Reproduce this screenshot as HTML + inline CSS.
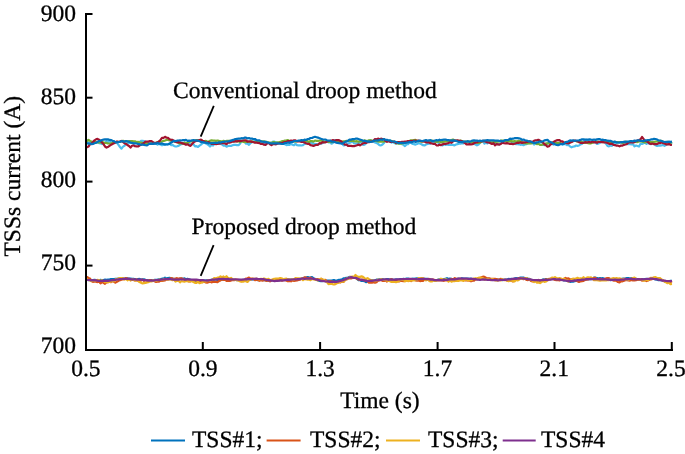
<!DOCTYPE html>
<html><head><meta charset="utf-8"><style>
html,body{margin:0;padding:0;background:#fff;}
svg{display:block;will-change:transform;}
text{font-family:"Liberation Serif",serif;fill:#000;text-rendering:geometricPrecision;stroke:#000;stroke-width:0.3px;}
</style></head><body>
<svg width="685" height="454" viewBox="0 0 685 454">
<rect width="685" height="454" fill="#fff"/>
<g id="curves">
<polyline fill="none" stroke="#4DBEEE" stroke-width="2.2" stroke-linejoin="round" points="85.5,139.2 87.0,140.6 88.5,143.2 90.0,143.7 91.5,142.8 93.0,143.1 94.5,142.5 96.0,142.8 97.5,142.1 99.0,143.1 100.5,143.3 102.0,144.1 103.5,143.3 105.0,142.8 106.5,140.8 108.0,142.3 109.5,140.5 111.0,143.1 112.5,142.9 114.0,142.7 115.5,142.4 117.0,142.9 118.5,144.9 120.0,147.0 121.5,148.7 123.0,146.6 124.5,145.7 126.0,143.9 127.5,143.9 129.0,142.0 130.5,142.6 132.0,142.7 133.5,141.9 135.0,142.9 136.5,142.3 138.0,142.4 139.5,142.1 141.0,140.9 142.5,140.8 144.0,141.0 145.5,141.7 147.0,142.2 148.5,141.9 150.0,142.4 151.5,142.9 153.0,143.4 154.5,143.6 156.0,143.4 157.5,144.6 159.0,143.7 160.5,144.6 162.0,145.3 163.5,144.5 165.0,144.2 166.5,144.0 168.0,144.3 169.5,143.4 171.0,145.1 172.5,144.8 174.0,145.9 175.5,146.5 177.0,146.3 178.5,145.9 180.0,144.8 181.5,144.1 183.0,143.6 184.5,142.6 186.0,143.6 187.5,142.8 189.0,142.8 190.5,144.8 192.0,144.2 193.5,144.2 195.0,146.4 196.5,146.2 198.0,147.0 199.5,145.6 201.0,144.6 202.5,143.2 204.0,142.7 205.5,143.2 207.0,144.0 208.5,145.0 210.0,146.5 211.5,145.0 213.0,145.6 214.5,143.8 216.0,143.5 217.5,142.8 219.0,143.2 220.5,144.0 222.0,144.4 223.5,145.6 225.0,145.7 226.5,146.7 228.0,146.0 229.5,145.8 231.0,146.0 232.5,145.3 234.0,144.9 235.5,144.9 237.0,145.1 238.5,145.2 240.0,143.7 241.5,141.4 243.0,141.0 244.5,141.0 246.0,143.6 247.5,143.6 249.0,144.9 250.5,143.1 252.0,142.2 253.5,141.7 255.0,140.9 256.5,140.8 258.0,142.0 259.5,142.5 261.0,142.8 262.5,143.9 264.0,143.0 265.5,144.6 267.0,143.3 268.5,142.8 270.0,143.3 271.5,142.8 273.0,141.5 274.5,141.7 276.0,142.2 277.5,143.2 279.0,142.7 280.5,143.1 282.0,143.6 283.5,143.4 285.0,144.3 286.5,145.1 288.0,144.7 289.5,145.0 291.0,143.8 292.5,144.7 294.0,145.3 295.5,143.8 297.0,145.1 298.5,145.3 300.0,145.3 301.5,145.5 303.0,145.2 304.5,144.0 306.0,143.6 307.5,143.2 309.0,143.0 310.5,143.1 312.0,142.6 313.5,144.2 315.0,143.8 316.5,144.2 318.0,144.4 319.5,143.9 321.0,143.5 322.5,143.1 324.0,142.3 325.5,141.8 327.0,141.7 328.5,142.3 330.0,142.1 331.5,143.7 333.0,142.8 334.5,140.4 336.0,140.2 337.5,141.0 339.0,140.9 340.5,142.6 342.0,143.6 343.5,145.3 345.0,145.1 346.5,144.5 348.0,143.6 349.5,142.9 351.0,142.2 352.5,141.4 354.0,143.4 355.5,143.5 357.0,143.3 358.5,143.2 360.0,142.7 361.5,141.7 363.0,144.9 364.5,144.7 366.0,143.4 367.5,141.6 369.0,141.0 370.5,140.1 372.0,141.5 373.5,141.8 375.0,142.5 376.5,143.1 378.0,143.8 379.5,145.1 381.0,145.4 382.5,144.5 384.0,143.0 385.5,140.7 387.0,140.6 388.5,141.0 390.0,140.4 391.5,142.6 393.0,141.6 394.5,143.1 396.0,143.7 397.5,142.7 399.0,142.1 400.5,143.1 402.0,144.2 403.5,144.8 405.0,146.1 406.5,144.4 408.0,144.2 409.5,142.6 411.0,142.8 412.5,143.9 414.0,144.1 415.5,144.6 417.0,144.0 418.5,143.1 420.0,143.5 421.5,144.3 423.0,145.2 424.5,145.5 426.0,144.6 427.5,144.0 429.0,143.6 430.5,143.6 432.0,142.2 433.5,141.7 435.0,141.9 436.5,141.9 438.0,142.1 439.5,144.9 441.0,145.0 442.5,145.4 444.0,144.1 445.5,145.0 447.0,144.4 448.5,144.9 450.0,144.8 451.5,144.6 453.0,144.9 454.5,145.4 456.0,144.5 457.5,144.1 459.0,143.7 460.5,143.6 462.0,143.1 463.5,143.3 465.0,142.1 466.5,142.7 468.0,141.7 469.5,142.4 471.0,142.2 472.5,143.4 474.0,143.8 475.5,144.5 477.0,145.4 478.5,144.6 480.0,142.7 481.5,141.9 483.0,141.3 484.5,143.7 486.0,142.7 487.5,143.4 489.0,142.4 490.5,142.6 492.0,143.2 493.5,143.5 495.0,144.1 496.5,143.3 498.0,144.2 499.5,144.4 501.0,142.5 502.5,142.3 504.0,140.5 505.5,140.6 507.0,140.3 508.5,141.1 510.0,140.4 511.5,141.8 513.0,143.1 514.5,142.8 516.0,144.1 517.5,144.1 519.0,144.3 520.5,144.8 522.0,144.5 523.5,145.2 525.0,144.4 526.5,144.1 528.0,143.2 529.5,142.9 531.0,143.1 532.5,142.1 534.0,144.5 535.5,143.6 537.0,143.4 538.5,143.5 540.0,144.3 541.5,144.8 543.0,144.7 544.5,145.2 546.0,144.6 547.5,143.2 549.0,143.4 550.5,143.3 552.0,143.1 553.5,144.6 555.0,143.4 556.5,144.1 558.0,143.4 559.5,143.7 561.0,144.0 562.5,144.8 564.0,143.8 565.5,144.1 567.0,145.2 568.5,144.8 570.0,146.4 571.5,147.3 573.0,146.7 574.5,146.5 576.0,145.5 577.5,145.9 579.0,145.5 580.5,144.3 582.0,144.0 583.5,141.3 585.0,140.1 586.5,139.8 588.0,141.0 589.5,141.8 591.0,142.2 592.5,142.6 594.0,141.5 595.5,142.5 597.0,144.0 598.5,143.5 600.0,142.8 601.5,141.9 603.0,141.0 604.5,141.9 606.0,143.7 607.5,146.0 609.0,146.4 610.5,145.5 612.0,145.8 613.5,144.1 615.0,144.0 616.5,143.1 618.0,142.4 619.5,142.6 621.0,142.1 622.5,143.5 624.0,143.1 625.5,143.2 627.0,144.1 628.5,143.8 630.0,144.1 631.5,144.3 633.0,144.2 634.5,146.4 636.0,145.5 637.5,146.0 639.0,146.6 640.5,143.8 642.0,144.0 643.5,143.3 645.0,142.7 646.5,143.9 648.0,142.9 649.5,143.9 651.0,144.1 652.5,142.6 654.0,143.6 655.5,145.3 657.0,145.9 658.5,145.6 660.0,145.7 661.5,145.4 663.0,144.8 664.5,145.8 666.0,145.1 667.5,143.9 669.0,142.4 670.5,143.4 672.0,142.6"/>
<polyline fill="none" stroke="#77AC30" stroke-width="2.2" stroke-linejoin="round" points="85.5,140.7 87.0,141.0 88.5,139.9 90.0,140.9 91.5,141.5 93.0,141.8 94.5,141.8 96.0,142.3 97.5,142.1 99.0,142.3 100.5,142.4 102.0,142.2 103.5,142.4 105.0,143.0 106.5,142.9 108.0,143.5 109.5,143.5 111.0,143.6 112.5,142.9 114.0,143.0 115.5,142.1 117.0,141.9 118.5,142.0 120.0,141.9 121.5,141.1 123.0,140.9 124.5,141.4 126.0,141.0 127.5,141.5 129.0,141.2 130.5,141.1 132.0,141.1 133.5,141.4 135.0,141.3 136.5,142.0 138.0,141.8 139.5,142.3 141.0,142.5 142.5,143.1 144.0,143.2 145.5,143.2 147.0,144.2 148.5,143.6 150.0,143.6 151.5,143.6 153.0,143.8 154.5,142.9 156.0,142.8 157.5,142.3 159.0,141.4 160.5,141.8 162.0,141.5 163.5,140.8 165.0,140.6 166.5,140.0 168.0,140.0 169.5,140.4 171.0,140.8 172.5,140.7 174.0,141.2 175.5,141.9 177.0,142.1 178.5,142.9 180.0,143.6 181.5,143.0 183.0,143.7 184.5,142.7 186.0,143.1 187.5,142.7 189.0,142.1 190.5,141.5 192.0,141.4 193.5,140.8 195.0,140.5 196.5,140.0 198.0,140.4 199.5,140.0 201.0,140.5 202.5,140.9 204.0,141.6 205.5,140.9 207.0,141.3 208.5,141.6 210.0,140.8 211.5,140.4 213.0,140.7 214.5,140.5 216.0,140.9 217.5,140.5 219.0,140.9 220.5,141.2 222.0,141.4 223.5,140.8 225.0,141.6 226.5,140.9 228.0,140.8 229.5,140.9 231.0,141.2 232.5,141.1 234.0,141.2 235.5,141.2 237.0,141.3 238.5,141.2 240.0,142.1 241.5,141.1 243.0,141.6 244.5,142.1 246.0,142.0 247.5,141.6 249.0,142.0 250.5,141.9 252.0,141.2 253.5,142.1 255.0,142.1 256.5,141.9 258.0,141.3 259.5,141.4 261.0,141.0 262.5,141.5 264.0,141.4 265.5,141.9 267.0,141.9 268.5,142.5 270.0,142.6 271.5,142.9 273.0,142.2 274.5,142.2 276.0,142.9 277.5,142.4 279.0,142.4 280.5,141.9 282.0,141.2 283.5,141.0 285.0,140.6 286.5,140.4 288.0,140.1 289.5,141.2 291.0,141.0 292.5,141.5 294.0,141.4 295.5,141.6 297.0,141.2 298.5,141.0 300.0,140.9 301.5,140.6 303.0,140.7 304.5,141.0 306.0,141.2 307.5,141.1 309.0,142.1 310.5,141.0 312.0,141.1 313.5,141.7 315.0,140.5 316.5,140.8 318.0,140.8 319.5,140.7 321.0,140.5 322.5,140.8 324.0,141.5 325.5,141.9 327.0,141.2 328.5,141.9 330.0,141.7 331.5,142.1 333.0,141.9 334.5,141.6 336.0,141.6 337.5,141.7 339.0,142.0 340.5,142.4 342.0,141.5 343.5,141.3 345.0,141.3 346.5,140.9 348.0,141.0 349.5,140.9 351.0,140.8 352.5,140.6 354.0,141.1 355.5,141.4 357.0,141.2 358.5,141.6 360.0,141.4 361.5,140.9 363.0,141.3 364.5,140.3 366.0,140.9 367.5,141.0 369.0,140.3 370.5,140.3 372.0,140.6 373.5,140.9 375.0,140.8 376.5,141.0 378.0,141.6 379.5,141.7 381.0,141.4 382.5,141.7 384.0,141.6 385.5,140.9 387.0,141.2 388.5,140.8 390.0,141.3 391.5,140.9 393.0,141.5 394.5,141.9 396.0,143.2 397.5,143.4 399.0,143.7 400.5,143.7 402.0,143.4 403.5,143.2 405.0,142.1 406.5,142.3 408.0,141.6 409.5,141.0 411.0,140.2 412.5,140.6 414.0,140.1 415.5,139.8 417.0,140.8 418.5,141.2 420.0,141.2 421.5,141.7 423.0,141.5 424.5,140.9 426.0,140.8 427.5,141.2 429.0,141.0 430.5,140.9 432.0,140.6 433.5,141.0 435.0,141.5 436.5,141.9 438.0,141.6 439.5,141.6 441.0,142.3 442.5,142.0 444.0,141.7 445.5,141.4 447.0,141.2 448.5,141.4 450.0,140.8 451.5,140.0 453.0,139.5 454.5,140.4 456.0,140.6 457.5,140.8 459.0,141.1 460.5,140.6 462.0,141.0 463.5,141.7 465.0,141.5 466.5,141.7 468.0,141.5 469.5,141.6 471.0,142.1 472.5,142.0 474.0,142.5 475.5,142.7 477.0,142.7 478.5,142.9 480.0,142.6 481.5,141.3 483.0,141.2 484.5,140.8 486.0,141.2 487.5,140.8 489.0,141.7 490.5,142.1 492.0,142.4 493.5,142.0 495.0,142.2 496.5,141.6 498.0,141.6 499.5,141.4 501.0,140.5 502.5,140.6 504.0,140.8 505.5,140.8 507.0,141.6 508.5,141.2 510.0,141.4 511.5,140.9 513.0,141.6 514.5,141.1 516.0,141.3 517.5,141.2 519.0,140.9 520.5,141.4 522.0,142.1 523.5,143.1 525.0,143.1 526.5,143.5 528.0,143.5 529.5,143.3 531.0,143.3 532.5,143.1 534.0,142.6 535.5,143.1 537.0,144.2 538.5,143.8 540.0,144.8 541.5,145.0 543.0,144.3 544.5,144.3 546.0,143.3 547.5,143.6 549.0,142.9 550.5,142.5 552.0,142.7 553.5,142.7 555.0,142.7 556.5,143.0 558.0,142.9 559.5,142.8 561.0,143.3 562.5,143.7 564.0,142.9 565.5,142.6 567.0,142.3 568.5,142.5 570.0,141.9 571.5,141.7 573.0,140.9 574.5,141.0 576.0,141.0 577.5,141.7 579.0,141.5 580.5,141.0 582.0,142.2 583.5,142.6 585.0,143.0 586.5,142.1 588.0,143.2 589.5,143.4 591.0,143.3 592.5,142.7 594.0,141.8 595.5,141.9 597.0,141.7 598.5,141.8 600.0,141.9 601.5,141.7 603.0,142.1 604.5,141.7 606.0,141.8 607.5,142.0 609.0,142.2 610.5,141.9 612.0,142.3 613.5,142.1 615.0,141.8 616.5,142.2 618.0,142.1 619.5,142.1 621.0,142.0 622.5,142.8 624.0,142.5 625.5,141.6 627.0,142.2 628.5,142.0 630.0,141.5 631.5,141.7 633.0,142.2 634.5,141.7 636.0,141.8 637.5,142.1 639.0,141.5 640.5,141.5 642.0,141.6 643.5,142.0 645.0,142.4 646.5,141.9 648.0,141.7 649.5,142.2 651.0,142.0 652.5,142.2 654.0,141.8 655.5,141.6 657.0,141.5 658.5,141.3 660.0,140.9 661.5,140.9 663.0,141.8 664.5,142.6 666.0,142.4 667.5,141.9 669.0,142.5 670.5,142.9 672.0,142.0"/>
<polyline fill="none" stroke="#A2142F" stroke-width="2.2" stroke-linejoin="round" points="85.5,147.5 87.0,147.2 88.5,146.5 90.0,144.4 91.5,143.6 93.0,142.0 94.5,140.3 96.0,139.3 97.5,138.9 99.0,139.7 100.5,140.8 102.0,142.5 103.5,144.1 105.0,146.5 106.5,147.6 108.0,147.0 109.5,145.8 111.0,144.9 112.5,144.0 114.0,143.3 115.5,142.4 117.0,141.5 118.5,141.8 120.0,141.5 121.5,140.9 123.0,141.9 124.5,143.3 126.0,143.9 127.5,145.0 129.0,146.0 130.5,147.6 132.0,145.8 133.5,145.3 135.0,146.2 136.5,146.3 138.0,146.5 139.5,145.5 141.0,144.6 142.5,144.1 144.0,142.8 145.5,141.7 147.0,141.6 148.5,141.6 150.0,141.0 151.5,141.1 153.0,142.1 154.5,143.1 156.0,142.8 157.5,142.4 159.0,141.6 160.5,139.9 162.0,137.9 163.5,137.8 165.0,136.8 166.5,137.7 168.0,137.8 169.5,139.2 171.0,139.6 172.5,139.9 174.0,141.0 175.5,141.9 177.0,142.3 178.5,142.1 180.0,142.3 181.5,143.1 183.0,143.4 184.5,144.1 186.0,144.8 187.5,144.3 189.0,145.2 190.5,145.9 192.0,144.1 193.5,142.4 195.0,141.4 196.5,140.8 198.0,140.7 199.5,140.0 201.0,139.7 202.5,140.7 204.0,141.2 205.5,142.3 207.0,142.5 208.5,142.2 210.0,142.8 211.5,143.8 213.0,143.9 214.5,143.7 216.0,144.1 217.5,143.9 219.0,143.6 220.5,143.4 222.0,143.1 223.5,143.2 225.0,143.4 226.5,144.2 228.0,142.5 229.5,142.7 231.0,142.3 232.5,141.4 234.0,141.7 235.5,141.1 237.0,141.4 238.5,140.8 240.0,140.9 241.5,140.8 243.0,140.5 244.5,140.3 246.0,140.3 247.5,141.7 249.0,141.3 250.5,141.4 252.0,141.9 253.5,142.0 255.0,142.7 256.5,142.6 258.0,142.9 259.5,143.1 261.0,144.0 262.5,143.9 264.0,144.7 265.5,144.8 267.0,143.5 268.5,143.0 270.0,144.2 271.5,145.1 273.0,144.1 274.5,144.0 276.0,144.4 277.5,143.6 279.0,143.4 280.5,143.1 282.0,143.1 283.5,142.4 285.0,142.2 286.5,141.7 288.0,141.1 289.5,141.0 291.0,140.6 292.5,140.9 294.0,140.3 295.5,140.3 297.0,141.3 298.5,141.1 300.0,141.4 301.5,141.9 303.0,141.9 304.5,142.5 306.0,143.3 307.5,143.8 309.0,143.8 310.5,145.1 312.0,145.4 313.5,146.0 315.0,145.3 316.5,144.8 318.0,144.8 319.5,143.2 321.0,143.3 322.5,142.1 324.0,142.5 325.5,142.4 327.0,141.6 328.5,141.0 330.0,140.8 331.5,140.5 333.0,140.1 334.5,140.7 336.0,140.2 337.5,140.0 339.0,140.2 340.5,140.9 342.0,142.2 343.5,143.3 345.0,144.7 346.5,144.5 348.0,145.9 349.5,145.9 351.0,145.9 352.5,146.2 354.0,146.2 355.5,145.7 357.0,145.2 358.5,144.5 360.0,145.4 361.5,144.4 363.0,143.3 364.5,143.0 366.0,143.0 367.5,142.0 369.0,142.2 370.5,141.5 372.0,141.5 373.5,140.9 375.0,139.0 376.5,139.5 378.0,138.6 379.5,139.3 381.0,138.7 382.5,139.0 384.0,139.2 385.5,140.9 387.0,141.8 388.5,141.0 390.0,141.8 391.5,141.6 393.0,142.0 394.5,141.7 396.0,143.0 397.5,142.0 399.0,142.2 400.5,142.4 402.0,141.9 403.5,141.9 405.0,141.7 406.5,141.6 408.0,141.1 409.5,141.1 411.0,141.0 412.5,140.9 414.0,140.9 415.5,140.7 417.0,140.9 418.5,140.6 420.0,141.0 421.5,141.1 423.0,141.4 424.5,141.5 426.0,142.4 427.5,142.1 429.0,142.5 430.5,143.2 432.0,143.5 433.5,143.9 435.0,143.9 436.5,145.3 438.0,145.5 439.5,144.6 441.0,145.1 442.5,144.4 444.0,143.9 445.5,143.9 447.0,143.5 448.5,143.2 450.0,142.2 451.5,142.8 453.0,141.4 454.5,140.5 456.0,140.7 457.5,140.3 459.0,140.8 460.5,140.8 462.0,141.2 463.5,142.3 465.0,143.0 466.5,144.4 468.0,144.3 469.5,144.1 471.0,144.3 472.5,144.2 474.0,143.3 475.5,142.5 477.0,142.5 478.5,141.3 480.0,141.3 481.5,141.5 483.0,140.8 484.5,141.1 486.0,141.6 487.5,142.5 489.0,142.5 490.5,143.2 492.0,144.0 493.5,143.2 495.0,145.3 496.5,144.1 498.0,144.3 499.5,144.6 501.0,143.8 502.5,142.7 504.0,143.1 505.5,143.4 507.0,143.2 508.5,143.5 510.0,144.0 511.5,143.7 513.0,144.1 514.5,143.7 516.0,143.2 517.5,142.7 519.0,142.8 520.5,142.4 522.0,142.9 523.5,142.4 525.0,142.4 526.5,142.0 528.0,141.8 529.5,141.3 531.0,141.6 532.5,141.8 534.0,140.8 535.5,140.3 537.0,140.1 538.5,139.8 540.0,140.6 541.5,141.8 543.0,142.5 544.5,144.3 546.0,145.2 547.5,146.6 549.0,146.2 550.5,144.4 552.0,143.7 553.5,142.0 555.0,141.1 556.5,140.4 558.0,140.0 559.5,140.2 561.0,141.3 562.5,141.3 564.0,142.9 565.5,142.9 567.0,143.2 568.5,143.3 570.0,142.8 571.5,142.1 573.0,141.2 574.5,140.5 576.0,140.9 577.5,141.2 579.0,142.2 580.5,142.8 582.0,142.9 583.5,142.9 585.0,142.1 586.5,142.6 588.0,142.2 589.5,142.2 591.0,142.5 592.5,141.3 594.0,142.4 595.5,142.1 597.0,142.8 598.5,141.9 600.0,142.0 601.5,142.1 603.0,142.2 604.5,142.4 606.0,142.5 607.5,142.9 609.0,143.8 610.5,143.8 612.0,143.6 613.5,144.9 615.0,145.1 616.5,145.7 618.0,145.6 619.5,146.4 621.0,145.5 622.5,145.6 624.0,144.8 625.5,144.5 627.0,143.9 628.5,142.5 630.0,142.4 631.5,142.3 633.0,142.5 634.5,142.2 636.0,140.8 637.5,140.6 639.0,140.0 640.5,139.3 642.0,137.0 643.5,138.9 645.0,140.9 646.5,141.0 648.0,142.1 649.5,143.5 651.0,143.9 652.5,143.5 654.0,144.2 655.5,144.0 657.0,144.1 658.5,143.2 660.0,143.2 661.5,142.4 663.0,143.1 664.5,143.5 666.0,144.3 667.5,144.4 669.0,144.1 670.5,144.8 672.0,145.0"/>
<polyline fill="none" stroke="#0072BD" stroke-width="2.2" stroke-linejoin="round" points="85.5,143.0 87.0,143.2 88.5,143.6 90.0,143.4 91.5,144.2 93.0,143.9 94.5,143.2 96.0,142.8 97.5,141.9 99.0,141.0 100.5,140.8 102.0,140.0 103.5,139.6 105.0,139.3 106.5,139.3 108.0,139.3 109.5,139.9 111.0,140.1 112.5,140.8 114.0,141.1 115.5,142.1 117.0,142.3 118.5,142.0 120.0,141.8 121.5,141.2 123.0,141.4 124.5,141.8 126.0,141.1 127.5,141.4 129.0,141.8 130.5,142.7 132.0,142.9 133.5,143.3 135.0,143.4 136.5,143.5 138.0,143.9 139.5,144.2 141.0,144.8 142.5,144.5 144.0,144.9 145.5,145.2 147.0,145.3 148.5,144.3 150.0,143.8 151.5,143.7 153.0,143.9 154.5,143.4 156.0,143.7 157.5,142.9 159.0,143.7 160.5,143.8 162.0,143.4 163.5,144.1 165.0,144.6 166.5,144.5 168.0,144.3 169.5,143.9 171.0,142.7 172.5,141.8 174.0,140.9 175.5,141.1 177.0,140.7 178.5,140.5 180.0,140.4 181.5,140.5 183.0,140.1 184.5,140.1 186.0,139.9 187.5,140.9 189.0,140.6 190.5,140.9 192.0,140.4 193.5,140.2 195.0,140.4 196.5,140.6 198.0,140.7 199.5,141.2 201.0,142.2 202.5,142.2 204.0,142.5 205.5,142.6 207.0,142.8 208.5,143.5 210.0,143.3 211.5,143.0 213.0,143.1 214.5,142.8 216.0,142.9 217.5,143.0 219.0,142.3 220.5,142.7 222.0,142.0 223.5,142.0 225.0,141.5 226.5,141.5 228.0,141.4 229.5,141.1 231.0,140.6 232.5,140.1 234.0,139.6 235.5,139.0 237.0,138.8 238.5,138.7 240.0,138.6 241.5,138.2 243.0,138.4 244.5,137.7 246.0,137.7 247.5,138.5 249.0,138.0 250.5,138.7 252.0,138.5 253.5,139.2 255.0,139.0 256.5,140.1 258.0,140.3 259.5,140.4 261.0,141.4 262.5,141.6 264.0,141.8 265.5,141.9 267.0,142.4 268.5,142.7 270.0,143.2 271.5,143.5 273.0,143.3 274.5,143.4 276.0,143.4 277.5,143.3 279.0,143.5 280.5,143.7 282.0,144.0 283.5,143.8 285.0,143.0 286.5,143.0 288.0,142.5 289.5,142.8 291.0,142.0 292.5,141.9 294.0,141.2 295.5,141.0 297.0,141.0 298.5,140.7 300.0,140.7 301.5,140.1 303.0,140.5 304.5,139.7 306.0,140.0 307.5,139.1 309.0,139.0 310.5,138.0 312.0,138.0 313.5,137.2 315.0,136.8 316.5,137.2 318.0,137.6 319.5,138.2 321.0,138.8 322.5,139.3 324.0,139.5 325.5,139.6 327.0,140.2 328.5,140.7 330.0,140.5 331.5,141.6 333.0,141.6 334.5,141.9 336.0,142.6 337.5,142.9 339.0,143.2 340.5,143.3 342.0,143.7 343.5,142.9 345.0,141.9 346.5,141.6 348.0,140.7 349.5,139.6 351.0,139.7 352.5,139.0 354.0,139.2 355.5,138.7 357.0,138.6 358.5,139.0 360.0,139.7 361.5,140.0 363.0,140.8 364.5,140.9 366.0,141.1 367.5,141.6 369.0,141.3 370.5,141.9 372.0,141.6 373.5,141.0 375.0,140.5 376.5,140.5 378.0,140.6 379.5,140.0 381.0,139.5 382.5,139.9 384.0,139.0 385.5,139.9 387.0,139.8 388.5,140.5 390.0,140.3 391.5,141.3 393.0,141.5 394.5,141.6 396.0,142.0 397.5,142.8 399.0,143.2 400.5,142.9 402.0,142.9 403.5,142.8 405.0,143.0 406.5,142.7 408.0,142.5 409.5,141.9 411.0,142.3 412.5,142.1 414.0,141.3 415.5,142.0 417.0,141.4 418.5,140.9 420.0,140.5 421.5,141.0 423.0,140.9 424.5,140.5 426.0,140.1 427.5,140.8 429.0,140.3 430.5,140.2 432.0,141.0 433.5,140.8 435.0,140.5 436.5,140.2 438.0,140.5 439.5,139.7 441.0,140.2 442.5,139.9 444.0,139.7 445.5,139.5 447.0,140.1 448.5,140.2 450.0,140.3 451.5,140.7 453.0,140.4 454.5,140.6 456.0,140.8 457.5,141.4 459.0,142.0 460.5,141.9 462.0,142.1 463.5,141.6 465.0,141.7 466.5,141.5 468.0,141.2 469.5,141.8 471.0,141.3 472.5,140.6 474.0,140.4 475.5,140.7 477.0,140.5 478.5,141.0 480.0,140.7 481.5,141.0 483.0,140.7 484.5,140.7 486.0,140.4 487.5,140.2 489.0,140.3 490.5,140.3 492.0,140.4 493.5,140.4 495.0,140.7 496.5,140.7 498.0,140.6 499.5,141.0 501.0,140.8 502.5,141.4 504.0,140.8 505.5,140.0 507.0,140.2 508.5,139.9 510.0,138.7 511.5,138.8 513.0,138.7 514.5,138.2 516.0,138.2 517.5,138.1 519.0,138.3 520.5,138.7 522.0,139.8 523.5,139.5 525.0,140.3 526.5,140.5 528.0,141.1 529.5,141.3 531.0,141.7 532.5,142.5 534.0,142.9 535.5,142.9 537.0,142.4 538.5,142.1 540.0,141.5 541.5,141.7 543.0,141.3 544.5,140.4 546.0,140.1 547.5,139.9 549.0,141.4 550.5,142.0 552.0,142.7 553.5,143.6 555.0,144.3 556.5,144.9 558.0,145.1 559.5,144.6 561.0,144.0 562.5,144.0 564.0,143.8 565.5,142.1 567.0,141.9 568.5,141.3 570.0,140.4 571.5,140.7 573.0,140.3 574.5,140.9 576.0,140.5 577.5,140.5 579.0,140.4 580.5,139.9 582.0,139.3 583.5,139.3 585.0,139.6 586.5,139.5 588.0,139.6 589.5,139.4 591.0,139.7 592.5,139.8 594.0,139.5 595.5,139.9 597.0,139.4 598.5,139.2 600.0,139.2 601.5,139.9 603.0,139.7 604.5,140.2 606.0,140.2 607.5,140.7 609.0,140.9 610.5,140.8 612.0,141.4 613.5,142.0 615.0,141.6 616.5,142.4 618.0,142.5 619.5,142.5 621.0,142.2 622.5,142.2 624.0,141.7 625.5,141.9 627.0,141.6 628.5,141.6 630.0,141.2 631.5,141.2 633.0,141.3 634.5,140.6 636.0,141.1 637.5,140.3 639.0,140.3 640.5,140.9 642.0,141.0 643.5,141.2 645.0,140.3 646.5,140.3 648.0,140.0 649.5,140.0 651.0,139.4 652.5,139.4 654.0,138.8 655.5,139.0 657.0,139.5 658.5,140.4 660.0,140.5 661.5,141.0 663.0,141.5 664.5,142.0 666.0,141.9 667.5,141.9 669.0,141.6 670.5,141.9 672.0,141.6"/>
<polyline fill="none" stroke="#0072BD" stroke-width="2.2" stroke-linejoin="round" points="85.5,279.7 87.0,279.6 88.5,280.1 90.0,279.7 91.5,280.5 93.0,280.2 94.5,279.9 96.0,280.2 97.5,280.5 99.0,280.9 100.5,279.9 102.0,280.3 103.5,280.0 105.0,279.7 106.5,279.9 108.0,279.6 109.5,279.5 111.0,279.0 112.5,279.0 114.0,279.0 115.5,278.9 117.0,278.8 118.5,278.6 120.0,278.7 121.5,278.8 123.0,278.7 124.5,278.6 126.0,278.7 127.5,278.3 129.0,278.7 130.5,278.6 132.0,278.8 133.5,278.8 135.0,279.2 136.5,279.1 138.0,279.0 139.5,278.9 141.0,279.5 142.5,279.4 144.0,279.3 145.5,279.8 147.0,280.1 148.5,280.4 150.0,280.3 151.5,280.2 153.0,280.7 154.5,279.9 156.0,279.8 157.5,279.7 159.0,279.4 160.5,279.1 162.0,278.7 163.5,278.6 165.0,277.7 166.5,278.6 168.0,278.0 169.5,277.8 171.0,278.3 172.5,278.8 174.0,278.8 175.5,279.7 177.0,279.3 178.5,279.3 180.0,278.9 181.5,278.7 183.0,278.8 184.5,278.4 186.0,279.3 187.5,278.8 189.0,279.4 190.5,279.9 192.0,280.4 193.5,280.6 195.0,280.6 196.5,280.8 198.0,280.9 199.5,280.7 201.0,281.0 202.5,280.6 204.0,280.4 205.5,280.6 207.0,280.4 208.5,280.3 210.0,280.1 211.5,279.7 213.0,279.8 214.5,279.7 216.0,279.3 217.5,280.1 219.0,279.7 220.5,279.5 222.0,279.8 223.5,279.2 225.0,279.3 226.5,279.7 228.0,278.9 229.5,279.2 231.0,279.9 232.5,279.8 234.0,279.6 235.5,280.0 237.0,280.2 238.5,279.8 240.0,280.0 241.5,280.0 243.0,279.8 244.5,280.1 246.0,279.6 247.5,279.4 249.0,279.5 250.5,279.3 252.0,279.2 253.5,279.4 255.0,279.4 256.5,280.0 258.0,280.2 259.5,279.7 261.0,279.2 262.5,279.8 264.0,280.2 265.5,280.1 267.0,280.5 268.5,280.6 270.0,280.4 271.5,280.4 273.0,280.1 274.5,280.2 276.0,280.0 277.5,280.1 279.0,280.5 280.5,279.9 282.0,280.2 283.5,279.9 285.0,279.4 286.5,279.7 288.0,279.6 289.5,279.4 291.0,279.5 292.5,279.9 294.0,279.8 295.5,279.3 297.0,279.0 298.5,279.0 300.0,278.9 301.5,278.9 303.0,278.2 304.5,277.8 306.0,277.7 307.5,277.0 309.0,277.3 310.5,277.5 312.0,277.0 313.5,278.4 315.0,278.9 316.5,279.8 318.0,280.4 319.5,280.9 321.0,281.2 322.5,281.2 324.0,280.6 325.5,281.1 327.0,280.6 328.5,280.7 330.0,280.5 331.5,280.6 333.0,280.2 334.5,280.1 336.0,280.9 337.5,280.3 339.0,279.9 340.5,279.7 342.0,279.4 343.5,278.3 345.0,278.2 346.5,277.9 348.0,277.6 349.5,276.9 351.0,277.2 352.5,277.3 354.0,277.9 355.5,277.9 357.0,278.9 358.5,280.1 360.0,280.1 361.5,281.0 363.0,280.8 364.5,281.1 366.0,282.2 367.5,281.5 369.0,281.4 370.5,281.0 372.0,280.1 373.5,280.5 375.0,280.5 376.5,279.7 378.0,279.5 379.5,279.4 381.0,279.5 382.5,279.1 384.0,279.6 385.5,279.6 387.0,279.0 388.5,279.2 390.0,279.6 391.5,279.4 393.0,279.8 394.5,279.9 396.0,279.3 397.5,279.6 399.0,279.4 400.5,279.1 402.0,279.2 403.5,278.8 405.0,279.0 406.5,278.7 408.0,278.6 409.5,279.1 411.0,279.1 412.5,278.7 414.0,278.9 415.5,278.5 417.0,278.3 418.5,278.6 420.0,278.8 421.5,278.5 423.0,278.6 424.5,278.8 426.0,278.8 427.5,278.8 429.0,279.5 430.5,279.3 432.0,280.3 433.5,280.1 435.0,280.3 436.5,280.3 438.0,279.7 439.5,279.4 441.0,279.7 442.5,279.2 444.0,279.0 445.5,278.9 447.0,278.1 448.5,278.9 450.0,278.7 451.5,278.9 453.0,279.0 454.5,279.4 456.0,279.1 457.5,278.8 459.0,278.6 460.5,279.4 462.0,278.2 463.5,278.6 465.0,278.5 466.5,278.5 468.0,278.7 469.5,278.9 471.0,278.7 472.5,279.0 474.0,279.2 475.5,278.8 477.0,279.2 478.5,279.2 480.0,279.1 481.5,278.9 483.0,278.8 484.5,278.6 486.0,278.5 487.5,278.9 489.0,278.9 490.5,279.0 492.0,279.5 493.5,279.5 495.0,279.2 496.5,279.8 498.0,279.5 499.5,279.9 501.0,279.2 502.5,280.1 504.0,279.7 505.5,279.5 507.0,279.5 508.5,278.9 510.0,279.0 511.5,278.9 513.0,279.2 514.5,278.5 516.0,278.2 517.5,278.4 519.0,278.0 520.5,277.6 522.0,277.6 523.5,277.6 525.0,278.2 526.5,278.0 528.0,279.0 529.5,278.9 531.0,279.7 532.5,280.4 534.0,280.3 535.5,280.7 537.0,281.1 538.5,280.4 540.0,280.6 541.5,280.3 543.0,279.4 544.5,279.6 546.0,279.0 547.5,279.1 549.0,279.0 550.5,279.1 552.0,278.7 553.5,278.7 555.0,278.9 556.5,279.5 558.0,279.3 559.5,279.9 561.0,279.4 562.5,279.7 564.0,280.4 565.5,280.3 567.0,280.9 568.5,281.1 570.0,281.9 571.5,281.6 573.0,281.7 574.5,281.2 576.0,280.9 577.5,280.8 579.0,281.1 580.5,280.1 582.0,280.0 583.5,279.5 585.0,279.7 586.5,279.0 588.0,279.1 589.5,279.0 591.0,279.2 592.5,278.6 594.0,277.7 595.5,277.7 597.0,278.1 598.5,278.6 600.0,278.1 601.5,278.3 603.0,278.2 604.5,278.7 606.0,279.2 607.5,279.4 609.0,279.7 610.5,280.1 612.0,280.0 613.5,279.9 615.0,279.4 616.5,279.7 618.0,280.2 619.5,279.3 621.0,279.1 622.5,278.7 624.0,278.7 625.5,278.6 627.0,278.1 628.5,278.1 630.0,278.6 631.5,278.1 633.0,278.7 634.5,278.6 636.0,278.8 637.5,279.2 639.0,279.3 640.5,279.5 642.0,279.1 643.5,279.3 645.0,279.1 646.5,278.9 648.0,279.0 649.5,279.0 651.0,278.8 652.5,278.9 654.0,278.9 655.5,279.4 657.0,279.7 658.5,280.2 660.0,279.9 661.5,280.4 663.0,280.4 664.5,281.4 666.0,281.1 667.5,281.5 669.0,281.3 670.5,280.8 672.0,280.8"/>
<polyline fill="none" stroke="#D95319" stroke-width="2.2" stroke-linejoin="round" points="85.5,276.8 87.0,277.0 88.5,278.0 90.0,278.6 91.5,280.6 93.0,281.8 94.5,281.5 96.0,281.7 97.5,282.1 99.0,281.5 100.5,283.4 102.0,282.1 103.5,282.8 105.0,283.8 106.5,282.3 108.0,282.1 109.5,281.7 111.0,282.1 112.5,281.1 114.0,281.9 115.5,282.7 117.0,281.7 118.5,280.8 120.0,280.3 121.5,279.8 123.0,279.3 124.5,279.1 126.0,278.0 127.5,279.0 129.0,278.8 130.5,279.9 132.0,280.0 133.5,279.9 135.0,280.5 136.5,280.2 138.0,281.0 139.5,280.4 141.0,280.6 142.5,279.6 144.0,280.9 145.5,280.0 147.0,280.9 148.5,280.8 150.0,280.0 151.5,280.8 153.0,280.6 154.5,281.3 156.0,281.9 157.5,281.6 159.0,281.7 160.5,280.6 162.0,280.9 163.5,280.6 165.0,280.5 166.5,279.3 168.0,279.3 169.5,278.9 171.0,278.1 172.5,278.4 174.0,279.2 175.5,278.5 177.0,278.2 178.5,278.8 180.0,278.3 181.5,278.3 183.0,279.0 184.5,279.6 186.0,280.4 187.5,280.9 189.0,281.4 190.5,281.5 192.0,280.3 193.5,280.3 195.0,280.3 196.5,280.1 198.0,281.4 199.5,282.1 201.0,281.5 202.5,282.2 204.0,281.5 205.5,282.4 207.0,282.6 208.5,282.1 210.0,281.6 211.5,282.4 213.0,281.8 214.5,281.7 216.0,281.8 217.5,282.1 219.0,281.0 220.5,280.4 222.0,279.3 223.5,279.9 225.0,279.7 226.5,280.8 228.0,280.6 229.5,280.8 231.0,280.6 232.5,280.0 234.0,280.1 235.5,279.8 237.0,279.5 238.5,280.2 240.0,280.8 241.5,281.2 243.0,280.3 244.5,280.2 246.0,278.6 247.5,278.3 249.0,277.6 250.5,278.9 252.0,278.6 253.5,279.0 255.0,280.2 256.5,279.9 258.0,280.0 259.5,280.8 261.0,280.3 262.5,280.7 264.0,280.0 265.5,280.6 267.0,280.8 268.5,280.4 270.0,281.3 271.5,280.2 273.0,280.2 274.5,280.3 276.0,280.7 277.5,280.1 279.0,279.9 280.5,280.2 282.0,280.7 283.5,280.1 285.0,279.9 286.5,280.7 288.0,281.3 289.5,280.9 291.0,281.3 292.5,280.3 294.0,280.9 295.5,280.7 297.0,280.5 298.5,280.0 300.0,279.7 301.5,278.5 303.0,278.8 304.5,277.3 306.0,277.6 307.5,278.3 309.0,278.4 310.5,277.6 312.0,279.0 313.5,279.0 315.0,279.0 316.5,279.4 318.0,279.2 319.5,279.8 321.0,278.8 322.5,279.7 324.0,280.3 325.5,279.9 327.0,281.5 328.5,282.0 330.0,281.1 331.5,281.7 333.0,281.7 334.5,282.3 336.0,282.3 337.5,282.8 339.0,281.7 340.5,282.4 342.0,281.5 343.5,281.9 345.0,279.4 346.5,279.5 348.0,278.5 349.5,278.4 351.0,278.5 352.5,278.0 354.0,277.8 355.5,277.7 357.0,278.9 358.5,279.5 360.0,279.8 361.5,279.6 363.0,279.6 364.5,280.4 366.0,280.5 367.5,281.2 369.0,282.6 370.5,282.3 372.0,282.6 373.5,282.2 375.0,282.7 376.5,282.2 378.0,280.6 379.5,280.4 381.0,280.0 382.5,280.9 384.0,281.0 385.5,280.4 387.0,281.5 388.5,280.3 390.0,279.6 391.5,279.2 393.0,280.2 394.5,280.7 396.0,280.5 397.5,281.0 399.0,281.4 400.5,280.7 402.0,280.9 403.5,281.2 405.0,280.6 406.5,280.1 408.0,280.5 409.5,280.4 411.0,281.1 412.5,279.9 414.0,279.4 415.5,280.4 417.0,280.6 418.5,280.5 420.0,281.1 421.5,280.9 423.0,281.0 424.5,279.7 426.0,279.3 427.5,279.3 429.0,278.9 430.5,279.7 432.0,279.6 433.5,279.5 435.0,280.4 436.5,280.0 438.0,280.3 439.5,280.3 441.0,280.1 442.5,280.5 444.0,280.8 445.5,280.2 447.0,280.3 448.5,280.5 450.0,279.8 451.5,278.8 453.0,279.9 454.5,278.1 456.0,278.8 457.5,278.9 459.0,279.3 460.5,278.6 462.0,279.4 463.5,279.5 465.0,280.3 466.5,280.3 468.0,280.5 469.5,280.6 471.0,281.3 472.5,280.7 474.0,280.6 475.5,279.3 477.0,279.5 478.5,277.8 480.0,278.1 481.5,277.3 483.0,276.7 484.5,276.9 486.0,277.8 487.5,278.4 489.0,278.4 490.5,278.7 492.0,278.8 493.5,278.8 495.0,278.9 496.5,279.1 498.0,279.5 499.5,279.3 501.0,278.8 502.5,279.9 504.0,280.0 505.5,279.7 507.0,280.7 508.5,280.5 510.0,280.7 511.5,280.7 513.0,281.5 514.5,280.2 516.0,279.6 517.5,278.9 519.0,278.2 520.5,278.3 522.0,278.4 523.5,279.2 525.0,278.4 526.5,280.0 528.0,280.1 529.5,279.5 531.0,281.0 532.5,281.4 534.0,281.3 535.5,280.9 537.0,280.8 538.5,279.8 540.0,280.8 541.5,280.6 543.0,279.9 544.5,280.0 546.0,279.3 547.5,280.4 549.0,278.8 550.5,278.9 552.0,278.4 553.5,279.3 555.0,279.9 556.5,280.1 558.0,279.9 559.5,280.4 561.0,279.8 562.5,279.8 564.0,278.9 565.5,277.9 567.0,278.7 568.5,278.4 570.0,279.7 571.5,279.3 573.0,279.8 574.5,280.5 576.0,280.4 577.5,281.3 579.0,282.0 580.5,281.3 582.0,281.1 583.5,280.8 585.0,280.0 586.5,279.6 588.0,279.5 589.5,278.8 591.0,278.7 592.5,278.4 594.0,277.9 595.5,277.8 597.0,279.4 598.5,279.3 600.0,278.8 601.5,279.3 603.0,279.3 604.5,279.1 606.0,278.4 607.5,278.0 609.0,278.2 610.5,278.9 612.0,280.0 613.5,280.6 615.0,280.3 616.5,280.9 618.0,282.0 619.5,282.5 621.0,281.1 622.5,281.3 624.0,280.7 625.5,280.2 627.0,280.1 628.5,280.3 630.0,280.6 631.5,279.9 633.0,280.5 634.5,280.5 636.0,280.2 637.5,280.0 639.0,279.7 640.5,279.7 642.0,280.7 643.5,280.0 645.0,280.3 646.5,281.1 648.0,280.5 649.5,279.6 651.0,279.4 652.5,278.9 654.0,278.6 655.5,278.2 657.0,278.9 658.5,279.1 660.0,279.5 661.5,279.6 663.0,280.7 664.5,281.1 666.0,282.0 667.5,281.1 669.0,281.4 670.5,282.2 672.0,281.2"/>
<polyline fill="none" stroke="#EDB120" stroke-width="2.2" stroke-linejoin="round" points="85.5,278.2 87.0,279.3 88.5,280.0 90.0,280.6 91.5,281.3 93.0,280.5 94.5,281.0 96.0,280.5 97.5,279.9 99.0,280.3 100.5,280.8 102.0,280.4 103.5,281.1 105.0,282.1 106.5,282.1 108.0,282.1 109.5,282.0 111.0,281.7 112.5,280.5 114.0,281.4 115.5,279.4 117.0,279.3 118.5,278.3 120.0,278.0 121.5,278.1 123.0,278.2 124.5,279.5 126.0,278.9 127.5,280.3 129.0,279.2 130.5,280.5 132.0,279.4 133.5,279.8 135.0,280.6 136.5,279.2 138.0,280.9 139.5,282.1 141.0,282.8 142.5,283.4 144.0,283.1 145.5,282.9 147.0,282.4 148.5,282.1 150.0,281.5 151.5,281.5 153.0,280.7 154.5,280.7 156.0,280.9 157.5,280.5 159.0,279.7 160.5,279.9 162.0,280.3 163.5,279.6 165.0,278.9 166.5,279.1 168.0,279.8 169.5,279.3 171.0,279.5 172.5,280.2 174.0,279.6 175.5,281.5 177.0,280.7 178.5,280.8 180.0,282.3 181.5,281.0 183.0,281.5 184.5,281.7 186.0,281.1 187.5,281.2 189.0,281.5 190.5,281.2 192.0,281.2 193.5,282.0 195.0,282.8 196.5,282.9 198.0,281.3 199.5,283.2 201.0,282.8 202.5,282.3 204.0,281.3 205.5,281.3 207.0,281.2 208.5,280.1 210.0,280.9 211.5,280.1 213.0,279.1 214.5,278.0 216.0,278.5 217.5,277.6 219.0,277.4 220.5,276.3 222.0,277.6 223.5,276.5 225.0,277.8 226.5,276.2 228.0,277.9 229.5,278.5 231.0,277.9 232.5,279.4 234.0,279.5 235.5,279.8 237.0,280.3 238.5,280.3 240.0,281.3 241.5,281.6 243.0,281.7 244.5,281.2 246.0,281.2 247.5,281.9 249.0,280.3 250.5,279.7 252.0,278.8 253.5,278.9 255.0,278.9 256.5,278.9 258.0,279.0 259.5,279.3 261.0,278.9 262.5,279.2 264.0,278.4 265.5,279.0 267.0,279.5 268.5,278.8 270.0,280.0 271.5,279.9 273.0,279.2 274.5,278.9 276.0,278.7 277.5,278.5 279.0,278.4 280.5,278.0 282.0,278.5 283.5,279.4 285.0,278.8 286.5,278.7 288.0,279.4 289.5,279.3 291.0,279.7 292.5,279.3 294.0,279.7 295.5,278.0 297.0,278.4 298.5,278.4 300.0,278.6 301.5,278.6 303.0,280.1 304.5,279.0 306.0,279.3 307.5,279.7 309.0,279.5 310.5,280.2 312.0,278.7 313.5,279.5 315.0,279.6 316.5,279.9 318.0,280.4 319.5,279.5 321.0,278.7 322.5,279.9 324.0,279.7 325.5,281.3 327.0,282.1 328.5,284.1 330.0,284.0 331.5,283.6 333.0,284.3 334.5,284.5 336.0,283.7 337.5,283.1 339.0,282.5 340.5,281.9 342.0,281.2 343.5,281.6 345.0,280.4 346.5,278.5 348.0,278.8 349.5,277.3 351.0,276.9 352.5,276.6 354.0,276.9 355.5,275.0 357.0,276.3 358.5,276.9 360.0,276.9 361.5,276.4 363.0,276.9 364.5,278.1 366.0,279.2 367.5,278.1 369.0,279.2 370.5,280.0 372.0,280.3 373.5,280.7 375.0,281.1 376.5,280.9 378.0,279.6 379.5,279.9 381.0,279.2 382.5,279.5 384.0,280.0 385.5,279.8 387.0,280.7 388.5,280.7 390.0,281.3 391.5,282.0 393.0,281.6 394.5,282.0 396.0,282.2 397.5,281.7 399.0,281.1 400.5,280.0 402.0,279.8 403.5,279.7 405.0,281.4 406.5,280.5 408.0,281.1 409.5,280.6 411.0,280.6 412.5,280.5 414.0,280.3 415.5,280.1 417.0,280.0 418.5,278.2 420.0,278.4 421.5,278.0 423.0,278.1 424.5,279.1 426.0,280.4 427.5,279.5 429.0,280.7 430.5,281.4 432.0,281.4 433.5,280.1 435.0,281.0 436.5,280.4 438.0,279.9 439.5,279.9 441.0,278.7 442.5,279.2 444.0,279.7 445.5,279.3 447.0,279.6 448.5,281.7 450.0,280.4 451.5,281.7 453.0,280.8 454.5,281.1 456.0,280.7 457.5,280.9 459.0,280.8 460.5,280.1 462.0,280.4 463.5,280.9 465.0,279.9 466.5,279.3 468.0,280.6 469.5,279.9 471.0,280.2 472.5,279.3 474.0,278.5 475.5,278.3 477.0,278.3 478.5,278.2 480.0,277.6 481.5,277.8 483.0,278.2 484.5,279.6 486.0,279.3 487.5,278.8 489.0,279.2 490.5,280.1 492.0,279.0 493.5,279.6 495.0,280.4 496.5,280.5 498.0,280.6 499.5,280.0 501.0,280.4 502.5,279.1 504.0,280.1 505.5,280.0 507.0,280.1 508.5,281.1 510.0,280.6 511.5,280.7 513.0,281.1 514.5,281.5 516.0,280.0 517.5,280.5 519.0,279.7 520.5,278.6 522.0,278.7 523.5,278.7 525.0,278.3 526.5,278.2 528.0,278.7 529.5,279.2 531.0,280.1 532.5,280.5 534.0,282.0 535.5,281.1 537.0,282.6 538.5,282.3 540.0,283.1 541.5,282.0 543.0,281.0 544.5,281.9 546.0,281.5 547.5,279.4 549.0,279.8 550.5,279.0 552.0,277.6 553.5,277.9 555.0,277.1 556.5,278.1 558.0,278.5 559.5,278.1 561.0,278.5 562.5,279.2 564.0,278.7 565.5,279.7 567.0,280.4 568.5,281.6 570.0,281.0 571.5,279.9 573.0,278.7 574.5,278.9 576.0,278.6 577.5,277.8 579.0,278.6 580.5,278.3 582.0,278.8 583.5,277.2 585.0,279.2 586.5,277.8 588.0,277.3 589.5,277.6 591.0,277.4 592.5,278.6 594.0,280.1 595.5,280.1 597.0,280.2 598.5,280.5 600.0,280.7 601.5,280.4 603.0,280.2 604.5,280.5 606.0,280.5 607.5,279.9 609.0,280.1 610.5,279.2 612.0,278.5 613.5,278.0 615.0,278.8 616.5,278.1 618.0,278.5 619.5,278.3 621.0,278.8 622.5,279.4 624.0,278.7 625.5,279.1 627.0,280.0 628.5,279.9 630.0,278.8 631.5,278.6 633.0,278.0 634.5,277.7 636.0,278.7 637.5,279.1 639.0,279.0 640.5,279.4 642.0,279.4 643.5,280.8 645.0,280.4 646.5,279.8 648.0,280.2 649.5,278.6 651.0,277.8 652.5,278.0 654.0,277.3 655.5,277.1 657.0,278.0 658.5,278.1 660.0,278.2 661.5,279.5 663.0,280.2 664.5,281.5 666.0,282.4 667.5,283.2 669.0,282.8 670.5,284.1 672.0,283.9"/>
<polyline fill="none" stroke="#7E2F8E" stroke-width="2.2" stroke-linejoin="round" points="85.5,279.6 87.0,279.9 88.5,280.0 90.0,280.1 91.5,280.4 93.0,280.2 94.5,280.4 96.0,280.4 97.5,280.7 99.0,281.0 100.5,280.9 102.0,281.0 103.5,280.7 105.0,280.9 106.5,280.7 108.0,280.9 109.5,280.7 111.0,280.5 112.5,280.2 114.0,280.1 115.5,279.9 117.0,279.5 118.5,279.3 120.0,279.1 121.5,279.0 123.0,278.9 124.5,278.9 126.0,278.8 127.5,278.9 129.0,278.8 130.5,279.3 132.0,279.3 133.5,279.5 135.0,279.4 136.5,279.6 138.0,279.6 139.5,279.6 141.0,279.5 142.5,279.8 144.0,280.2 145.5,280.2 147.0,280.3 148.5,280.6 150.0,280.5 151.5,280.6 153.0,280.6 154.5,280.5 156.0,280.1 157.5,280.1 159.0,280.1 160.5,279.7 162.0,279.7 163.5,279.5 165.0,279.2 166.5,279.2 168.0,279.1 169.5,279.0 171.0,279.2 172.5,279.3 174.0,279.6 175.5,279.6 177.0,279.6 178.5,279.7 180.0,279.5 181.5,279.4 183.0,279.5 184.5,279.6 186.0,279.7 187.5,279.4 189.0,279.4 190.5,279.6 192.0,279.6 193.5,279.6 195.0,279.7 196.5,279.7 198.0,279.8 199.5,280.2 201.0,280.1 202.5,280.2 204.0,280.4 205.5,280.5 207.0,280.6 208.5,280.4 210.0,280.2 211.5,280.0 213.0,279.5 214.5,279.5 216.0,279.4 217.5,279.3 219.0,278.8 220.5,279.0 222.0,278.8 223.5,278.9 225.0,279.0 226.5,279.1 228.0,278.9 229.5,279.3 231.0,279.3 232.5,279.3 234.0,279.5 235.5,279.3 237.0,279.5 238.5,279.6 240.0,279.5 241.5,279.6 243.0,279.5 244.5,279.4 246.0,279.4 247.5,279.2 249.0,279.1 250.5,279.1 252.0,279.2 253.5,278.9 255.0,278.9 256.5,278.6 258.0,279.0 259.5,279.0 261.0,279.2 262.5,279.1 264.0,279.2 265.5,279.7 267.0,280.0 268.5,280.1 270.0,280.3 271.5,280.6 273.0,280.7 274.5,281.1 276.0,280.8 277.5,280.8 279.0,280.7 280.5,280.4 282.0,280.3 283.5,280.4 285.0,280.1 286.5,279.9 288.0,279.7 289.5,279.8 291.0,279.7 292.5,279.5 294.0,279.3 295.5,279.3 297.0,279.2 298.5,279.0 300.0,279.1 301.5,278.7 303.0,278.7 304.5,278.8 306.0,278.7 307.5,278.5 309.0,278.6 310.5,278.6 312.0,278.5 313.5,278.8 315.0,279.2 316.5,279.6 318.0,279.8 319.5,280.3 321.0,280.8 322.5,280.8 324.0,281.2 325.5,281.4 327.0,281.5 328.5,281.7 330.0,281.9 331.5,281.9 333.0,281.9 334.5,281.7 336.0,281.9 337.5,281.6 339.0,281.3 340.5,280.9 342.0,280.5 343.5,280.1 345.0,279.5 346.5,278.7 348.0,278.2 349.5,277.5 351.0,277.2 352.5,277.4 354.0,278.0 355.5,277.8 357.0,278.2 358.5,278.9 360.0,279.6 361.5,279.8 363.0,280.1 364.5,280.3 366.0,280.6 367.5,281.0 369.0,280.9 370.5,280.7 372.0,280.8 373.5,280.7 375.0,280.4 376.5,280.3 378.0,280.1 379.5,279.8 381.0,279.8 382.5,279.6 384.0,279.5 385.5,279.4 387.0,279.4 388.5,279.8 390.0,279.5 391.5,279.7 393.0,279.6 394.5,279.7 396.0,279.6 397.5,279.4 399.0,279.3 400.5,279.3 402.0,279.2 403.5,279.1 405.0,279.0 406.5,279.0 408.0,279.0 409.5,278.9 411.0,278.8 412.5,279.0 414.0,279.0 415.5,279.1 417.0,279.3 418.5,279.0 420.0,279.0 421.5,278.8 423.0,278.8 424.5,278.8 426.0,279.2 427.5,279.1 429.0,279.2 430.5,279.6 432.0,279.4 433.5,279.9 435.0,280.1 436.5,280.2 438.0,280.2 439.5,280.2 441.0,280.2 442.5,280.3 444.0,279.9 445.5,280.0 447.0,280.0 448.5,279.7 450.0,279.5 451.5,279.5 453.0,279.3 454.5,279.3 456.0,279.2 457.5,278.9 459.0,278.5 460.5,278.6 462.0,278.5 463.5,278.6 465.0,278.6 466.5,278.5 468.0,278.8 469.5,278.8 471.0,278.8 472.5,278.8 474.0,279.1 475.5,279.0 477.0,279.5 478.5,279.6 480.0,279.8 481.5,279.7 483.0,279.4 484.5,279.7 486.0,279.7 487.5,279.9 489.0,279.8 490.5,279.9 492.0,280.1 493.5,280.1 495.0,280.1 496.5,280.1 498.0,280.5 499.5,280.1 501.0,280.0 502.5,279.9 504.0,279.9 505.5,279.9 507.0,279.7 508.5,279.5 510.0,279.3 511.5,279.1 513.0,278.8 514.5,278.6 516.0,278.9 517.5,278.6 519.0,278.6 520.5,278.4 522.0,278.5 523.5,278.6 525.0,278.6 526.5,279.0 528.0,279.2 529.5,279.4 531.0,279.6 532.5,279.9 534.0,280.1 535.5,280.2 537.0,280.0 538.5,280.1 540.0,280.4 541.5,280.2 543.0,280.2 544.5,280.0 546.0,279.8 547.5,280.0 549.0,279.6 550.5,279.6 552.0,279.4 553.5,279.2 555.0,279.1 556.5,279.5 558.0,279.4 559.5,279.4 561.0,279.9 562.5,280.1 564.0,280.3 565.5,280.5 567.0,280.8 568.5,281.1 570.0,281.2 571.5,281.0 573.0,280.9 574.5,280.3 576.0,280.5 577.5,280.2 579.0,280.2 580.5,280.0 582.0,279.6 583.5,279.6 585.0,279.4 586.5,279.1 588.0,279.1 589.5,279.2 591.0,278.9 592.5,279.1 594.0,279.2 595.5,279.1 597.0,279.0 598.5,279.2 600.0,279.4 601.5,279.4 603.0,279.2 604.5,279.3 606.0,279.5 607.5,279.6 609.0,279.6 610.5,279.8 612.0,279.9 613.5,279.9 615.0,279.5 616.5,279.9 618.0,279.8 619.5,279.9 621.0,279.6 622.5,279.6 624.0,279.6 625.5,278.9 627.0,279.4 628.5,279.2 630.0,279.0 631.5,278.9 633.0,279.2 634.5,279.1 636.0,279.3 637.5,279.2 639.0,279.2 640.5,279.3 642.0,279.2 643.5,279.3 645.0,279.2 646.5,279.0 648.0,278.9 649.5,278.8 651.0,278.5 652.5,278.7 654.0,279.0 655.5,279.2 657.0,279.2 658.5,279.6 660.0,279.9 661.5,280.2 663.0,280.6 664.5,280.6 666.0,280.9 667.5,281.1 669.0,281.2 670.5,281.1 672.0,281.0"/>
</g>
<g fill="#000">
<rect x="85" y="13" width="2" height="338"/>
<rect x="85" y="349" width="588" height="2"/>
<rect x="85" y="13" width="7.5" height="2"/>
<rect x="85" y="96.7" width="7.5" height="2"/>
<rect x="85" y="180.6" width="7.5" height="2"/>
<rect x="85" y="264.6" width="7.5" height="2"/>
<rect x="201.8" y="342" width="2" height="8"/>
<rect x="319.1" y="342" width="2" height="8"/>
<rect x="436.6" y="342" width="2" height="8"/>
<rect x="553.5" y="342" width="2" height="8"/>
<rect x="670.8" y="342" width="2" height="8"/>
</g>
<line x1="213.8" y1="105.9" x2="200.7" y2="136.7" stroke="#000" stroke-width="1.8"/>
<line x1="213.6" y1="245.1" x2="200.7" y2="275.9" stroke="#000" stroke-width="1.8"/>
<g font-size="23.5">
<text x="76" y="21.3" text-anchor="end">900</text>
<text x="76" y="104.3" text-anchor="end">850</text>
<text x="76" y="186.5" text-anchor="end">800</text>
<text x="76" y="269.8" text-anchor="end">750</text>
<text x="76" y="352.7" text-anchor="end">700</text>
<text x="85.9" y="376.2" text-anchor="middle">0.5</text>
<text x="202.9" y="376.2" text-anchor="middle">0.9</text>
<text x="320.1" y="376.2" text-anchor="middle">1.3</text>
<text x="437.5" y="376.2" text-anchor="middle">1.7</text>
<text x="554.3" y="376.2" text-anchor="middle">2.1</text>
<text x="671" y="376.2" text-anchor="middle">2.5</text>
<text x="379.9" y="408.3" text-anchor="middle">Time (s)</text>
<text transform="translate(19.8,176.2) rotate(-90)" text-anchor="middle">TSSs current (A)</text>
<text x="173" y="97.8">Conventional droop method</text>
<text x="191.6" y="234.0">Proposed droop method</text>
<text x="192" y="447.3">TSS#1;</text>
<text x="310" y="447.3">TSS#2;</text>
<text x="428" y="447.3">TSS#3;</text>
<text x="541" y="447.3">TSS#4</text>
</g>
<rect x="151" y="439.5" width="34" height="2" fill="#0072BD"/>
<rect x="266.6" y="439.5" width="34" height="2" fill="#D95319"/>
<rect x="386" y="439.5" width="34" height="2" fill="#EDB120"/>
<rect x="502.7" y="439.5" width="33" height="2" fill="#7E2F8E"/>
</svg>
</body></html>
